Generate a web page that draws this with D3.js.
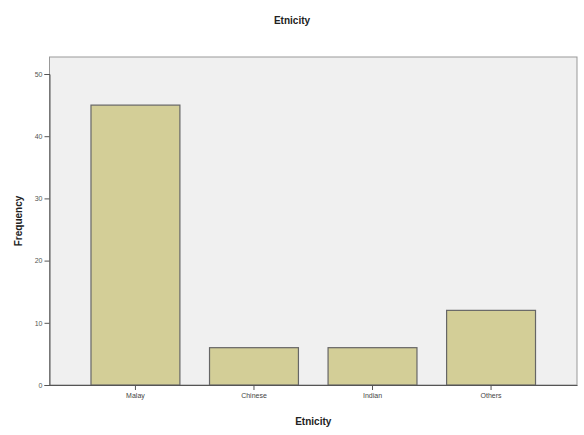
<!DOCTYPE html>
<html><head><meta charset="utf-8">
<script src="https://cdn.jsdelivr.net/npm/d3@7"></script>
<style>body{margin:0;background:#fff;} text{font-family:"Liberation Sans",Arial,sans-serif;}</style>
</head><body><svg id="c" width="584" height="435"></svg>
<script>
const categories = ["Malay","Chinese","Indian","Others"];
const values = [45, 6, 6, 12];
const yTicks = [0,10,20,30,40,50];

const svg = d3.select("#c");
const L = 49.5, R = 577, T = 57, B = 385;
const x = d3.scaleBand().domain(categories).range([L, R]).paddingInner(0.25).paddingOuter(0.35);
const y = d3.scaleLinear().domain([0, 50]).range([B, B - 5*62.2]);

svg.append("rect").attr("x", L).attr("y", T).attr("width", R-L).attr("height", B-T)
  .attr("fill", "#f0f0f0").attr("stroke", "#999").attr("stroke-width", 1);

svg.selectAll("rect.bar").data(values).join("rect").attr("class","bar")
  .attr("x", (d,i)=>x(categories[i])).attr("width", x.bandwidth())
  .attr("y", d=>y(d)).attr("height", d=>B-y(d))
  .attr("fill", "#d3ce97").attr("stroke", "#666").attr("stroke-width", 1.2);

const ya = svg.append("g").attr("transform", `translate(${L},0)`)
  .call(d3.axisLeft(y).tickValues(yTicks).tickSize(5).tickPadding(2));
ya.select(".domain").attr("stroke","#555");
ya.selectAll(".tick line").attr("stroke","#555");
ya.selectAll("text").attr("font-size", 7).attr("fill","#555");

const xa = svg.append("g").attr("transform", `translate(0,${B})`)
  .call(d3.axisBottom(x).tickSize(5).tickPadding(3).tickSizeOuter(0));
xa.select(".domain").attr("stroke","#555");
xa.selectAll(".tick line").attr("stroke","#555");
xa.selectAll("text").attr("font-size", 7).attr("fill","#444");

svg.append("text").attr("x", 292).attr("y", 24).attr("text-anchor","middle")
  .attr("font-size", 10).attr("font-weight","bold").attr("fill","#222").text("Etnicity");
svg.append("text").attr("x", (L+R)/2).attr("y", 425).attr("text-anchor","middle")
  .attr("font-size", 10).attr("font-weight","bold").attr("fill","#222").text("Etnicity");
svg.append("text").attr("transform", `translate(22,${(T+B)/2}) rotate(-90)`).attr("text-anchor","middle")
  .attr("font-size", 10).attr("font-weight","bold").attr("fill","#222").text("Frequency");
</script></body></html>
